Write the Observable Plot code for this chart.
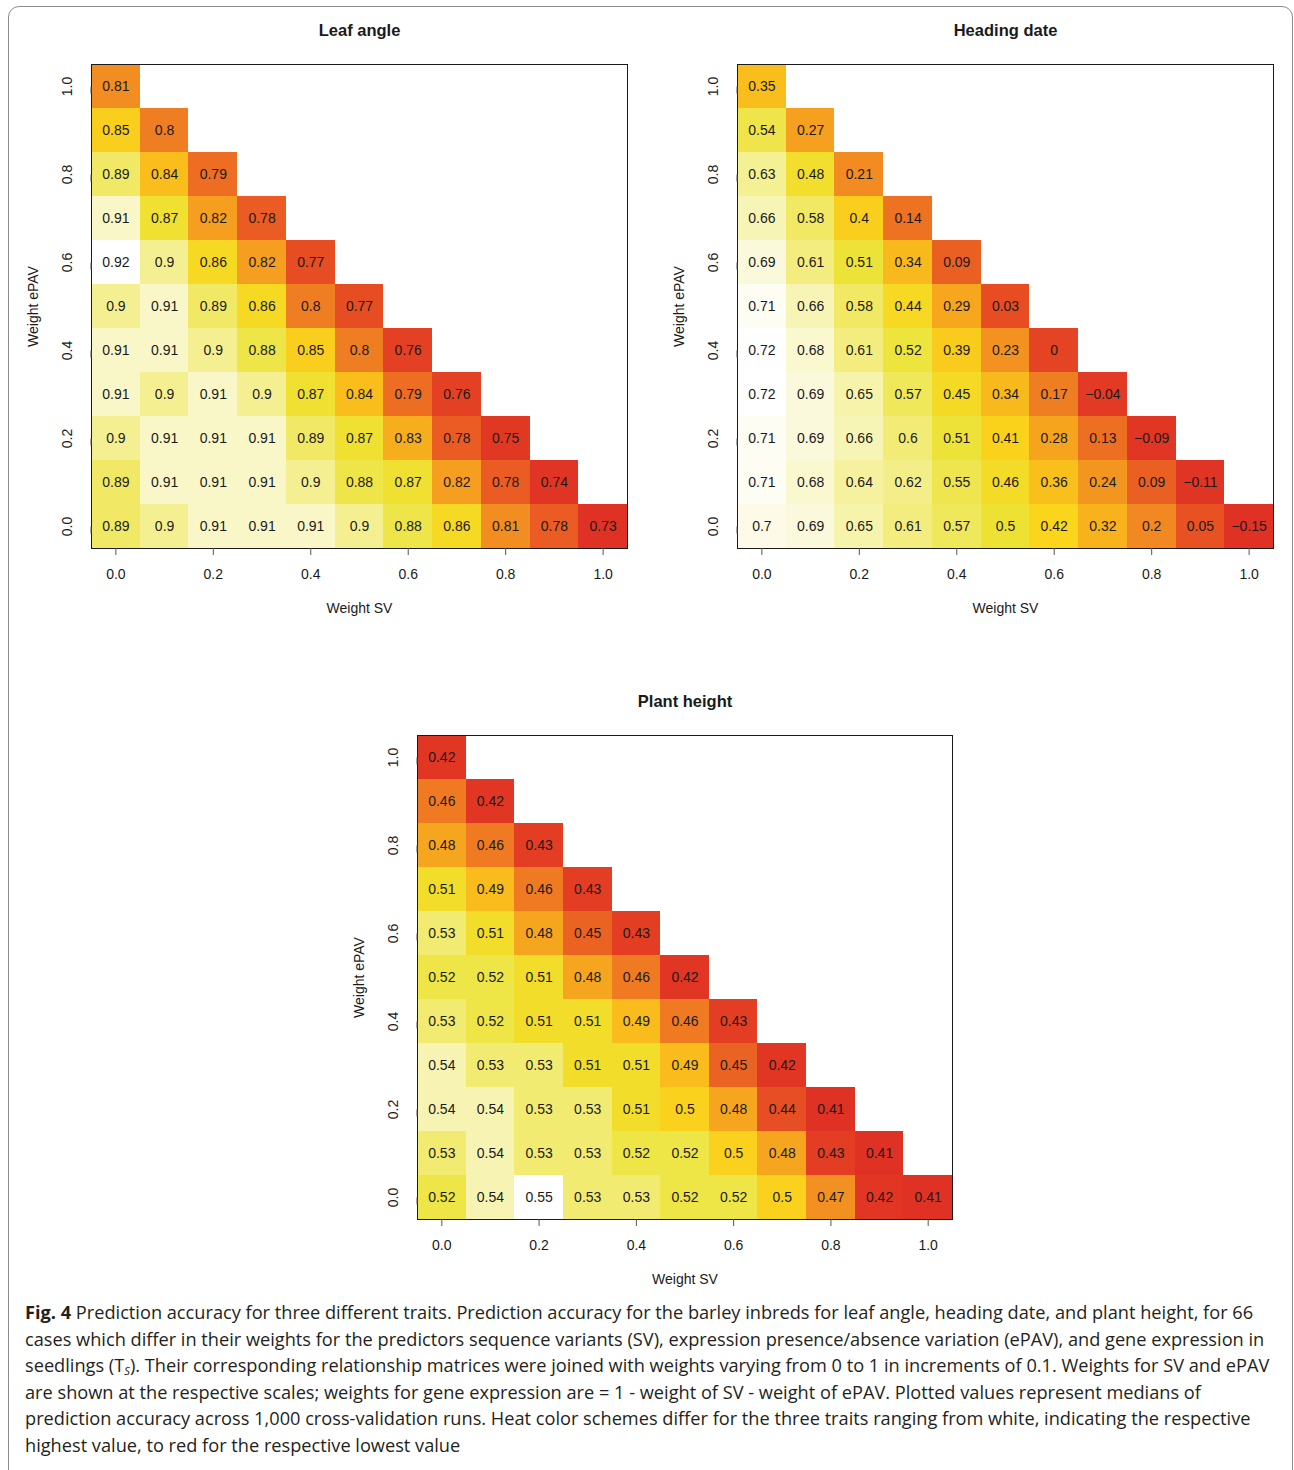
<!DOCTYPE html>
<html>
<head>
<meta charset="utf-8">
<script src="https://cdn.jsdelivr.net/npm/d3@7"></script>
<script src="https://cdn.jsdelivr.net/npm/@observablehq/plot@0.6"></script>
<style>
  html, body { margin: 0; padding: 0; background: #fff; }
  body { width: 1294px; height: 1470px; position: relative; overflow: hidden; }
  #border { position: absolute; left: 8px; top: 6px; width: 1285px; height: 1490px;
            border: 1.5px solid #8c8c8c; border-radius: 11px; box-sizing: border-box; }
  .chart { position: absolute; }
  #caption { position: absolute; left: 25px; top: 1299px; font-family: "Open Sans", sans-serif;
             color: #231f20; line-height: 26.6px; white-space: nowrap; font-size: 17.5px; }
  #caption sub { font-size: 0.62em; line-height: 0; vertical-align: -0.3em; font-style: italic; }
</style>
</head>
<body>
<div id="border"></div>
<div id="c1" class="chart" style="left:0px; top:0px;"></div>
<div id="c2" class="chart" style="left:646px; top:0px;"></div>
<div id="c3" class="chart" style="left:326px; top:671px;"></div>
<div id="caption">
  <div id="line1"><b>Fig. 4</b> Prediction accuracy for three different traits. Prediction accuracy for the barley inbreds for leaf angle, heading date, and plant height, for 66</div>
  <div>cases which differ in their weights for the predictors sequence variants (SV), expression presence/absence variation (ePAV), and gene expression in</div>
  <div>seedlings (T<sub>S</sub>). Their corresponding relationship matrices were joined with weights varying from 0 to 1 in increments of 0.1. Weights for SV and ePAV</div>
  <div>are shown at the respective scales; weights for gene expression are = 1 - weight of SV - weight of ePAV. Plotted values represent medians of</div>
  <div>prediction accuracy across 1,000 cross-validation runs. Heat color schemes differ for the three traits ranging from white, indicating the respective</div>
  <div>highest value, to red for the respective lowest value</div>
</div>
<script>
// Weight levels (SV on x, ePAV on y)
const weights = [0, 0.1, 0.2, 0.3, 0.4, 0.5, 0.6, 0.7, 0.8, 0.9, 1.0];
const tickValues = [0, 0.2, 0.4, 0.6, 0.8, 1.0];

// Rows indexed by ePAV weight (0.0 first), columns by SV weight
const leafAngle = [
  [0.89, 0.9, 0.91, 0.91, 0.91, 0.9, 0.88, 0.86, 0.81, 0.78, 0.73],
  [0.89, 0.91, 0.91, 0.91, 0.9, 0.88, 0.87, 0.82, 0.78, 0.74],
  [0.9, 0.91, 0.91, 0.91, 0.89, 0.87, 0.83, 0.78, 0.75],
  [0.91, 0.9, 0.91, 0.9, 0.87, 0.84, 0.79, 0.76],
  [0.91, 0.91, 0.9, 0.88, 0.85, 0.8, 0.76],
  [0.9, 0.91, 0.89, 0.86, 0.8, 0.77],
  [0.92, 0.9, 0.86, 0.82, 0.77],
  [0.91, 0.87, 0.82, 0.78],
  [0.89, 0.84, 0.79],
  [0.85, 0.8],
  [0.81]
];

const headingDate = [
  [0.7, 0.69, 0.65, 0.61, 0.57, 0.5, 0.42, 0.32, 0.2, 0.05, -0.15],
  [0.71, 0.68, 0.64, 0.62, 0.55, 0.46, 0.36, 0.24, 0.09, -0.11],
  [0.71, 0.69, 0.66, 0.6, 0.51, 0.41, 0.28, 0.13, -0.09],
  [0.72, 0.69, 0.65, 0.57, 0.45, 0.34, 0.17, -0.04],
  [0.72, 0.68, 0.61, 0.52, 0.39, 0.23, 0],
  [0.71, 0.66, 0.58, 0.44, 0.29, 0.03],
  [0.69, 0.61, 0.51, 0.34, 0.09],
  [0.66, 0.58, 0.4, 0.14],
  [0.63, 0.48, 0.21],
  [0.54, 0.27],
  [0.35]
];

const plantHeight = [
  [0.52, 0.54, 0.55, 0.53, 0.53, 0.52, 0.52, 0.5, 0.47, 0.42, 0.41],
  [0.53, 0.54, 0.53, 0.53, 0.52, 0.52, 0.5, 0.48, 0.43, 0.41],
  [0.54, 0.54, 0.53, 0.53, 0.51, 0.5, 0.48, 0.44, 0.41],
  [0.54, 0.53, 0.53, 0.51, 0.51, 0.49, 0.45, 0.42],
  [0.53, 0.52, 0.51, 0.51, 0.49, 0.46, 0.43],
  [0.52, 0.52, 0.51, 0.48, 0.46, 0.42],
  [0.53, 0.51, 0.48, 0.45, 0.43],
  [0.51, 0.49, 0.46, 0.43],
  [0.48, 0.46, 0.43],
  [0.46, 0.42],
  [0.42]
];

// Heat palette (red -> orange -> yellow -> white)
const heatStops = [0, 0.13, 0.23, 0.40, 0.54, 0.655, 0.75, 0.83, 0.875, 0.92, 0.97, 1];
const heatColors = ["#df3224", "#e23a24", "#e85223", "#f18722", "#f8b21c", "#fad51c",
                    "#ede234", "#f0e85c", "#f3ed80", "#f6f3aa", "#fcfae1", "#ffffff"];
const heatRamp = d3.scaleLinear().domain(heatStops).range(heatColors).interpolate(d3.interpolateRgb);

function cellsOf(rows) {
  const out = [];
  rows.forEach((row, i) => row.forEach((v, j) => out.push({sv: weights[j], epav: weights[i], value: v})));
  return out;
}
const fmtVal = v => String(v).replace("-", "\u2212");
const half = 0.05;

function heatmap(rows, title, width, marginRight) {
  const cells = cellsOf(rows);
  return Plot.plot({
    width, height: 640,
    marginLeft: 91, marginRight, marginTop: 64, marginBottom: 92,
    style: {fontFamily: "'Liberation Sans', Arial, sans-serif", fontSize: "14px", color: "#1a1a1a", background: "transparent", overflow: "visible"},
    x: {domain: [-half, 1 + half]},
    y: {domain: [-half, 1 + half]},
    color: {type: "linear", domain: d3.extent(cells, d => d.value), interpolate: t => heatRamp(t)},
    marks: [
      Plot.rect(cells, {x1: d => d.sv - half, x2: d => d.sv + half, y1: d => d.epav - half, y2: d => d.epav + half,
                        fill: "value", shapeRendering: "crispEdges"}),
      Plot.text(cells, {x: "sv", y: "epav", text: d => fmtVal(d.value), fontSize: 14, fill: "#1a1a1a"}),
      Plot.frame({stroke: "#1a1a1a", strokeWidth: 1}),
      Plot.axisX({ticks: tickValues, tickFormat: d3.format(".1f"), tickSize: 7, tickPadding: 14, stroke: "#555", fontSize: 14, label: null}),
      Plot.axisY({ticks: tickValues, tickFormat: d3.format(".1f"), tickSize: 7, tickPadding: 17, stroke: "#555", rotate: -90, textAnchor: "middle", fontSize: 14, label: null}),
      Plot.text([title], {frameAnchor: "top", dy: -34, text: d => d, fontWeight: "bold", fontSize: 16.5, lineAnchor: "middle"}),
      Plot.text(["Weight SV"], {frameAnchor: "bottom", dy: 60, text: d => d, fontSize: 14, lineAnchor: "middle", textAnchor: "middle"}),
      Plot.text(["Weight ePAV"], {frameAnchor: "left", dx: -58, text: d => d, rotate: -90, fontSize: 14, lineAnchor: "middle", textAnchor: "middle"})
    ]
  });
}

document.getElementById("c1").append(heatmap(leafAngle, "Leaf angle", 640, 13));
document.getElementById("c2").append(heatmap(headingDate, "Heading date", 640, 13));
document.getElementById("c3").append(heatmap(plantHeight, "Plant height", 640, 14));

// Fit caption font size so the first line spans the same width as in the reference
(function fitCaption() {
  const cap = document.getElementById("caption");
  const l1 = document.getElementById("line1");
  const span = document.createElement("span");
  span.innerHTML = l1.innerHTML;
  span.style.whiteSpace = "nowrap";
  l1.innerHTML = "";
  l1.appendChild(span);
  const base = parseFloat(getComputedStyle(cap).fontSize);
  const w = span.getBoundingClientRect().width;
  if (w > 0) cap.style.fontSize = (base * 1228 / w).toFixed(2) + "px";
})();
</script>
</body>
</html>
